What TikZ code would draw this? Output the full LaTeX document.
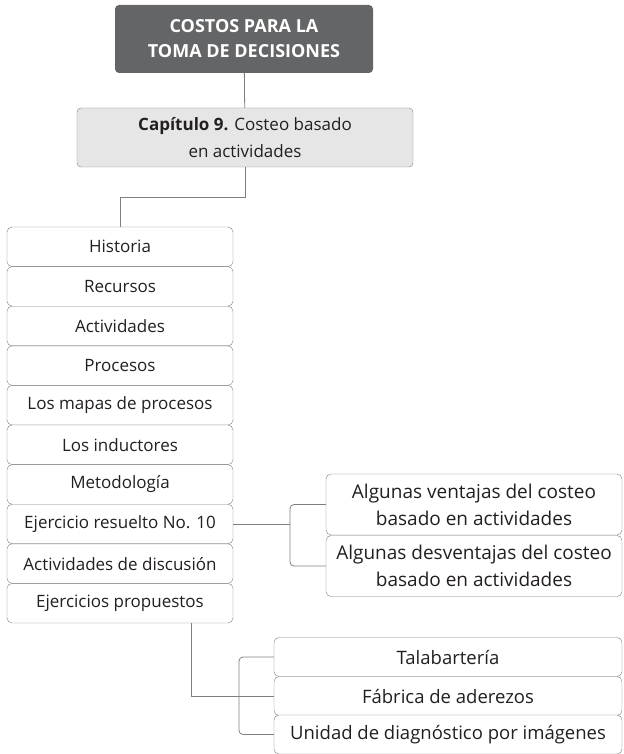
\documentclass[tikz,border=0pt]{standalone}
\usepackage{fontspec}
\setmainfont{Open Sans}
\usepackage{tikz}
\usetikzlibrary{positioning}
\definecolor{colordark}{HTML}{646567}
\definecolor{colorchap}{HTML}{E6E6E6}
\definecolor{colorline}{HTML}{7F7F7F}
\definecolor{colortext}{HTML}{231F20}
\tikzset{
  titlebox/.style={fill=colordark, draw=none, rounded corners=4pt, text=white,
    font=\fontsize{18}{25}\selectfont\bfseries, align=center, inner sep=0pt},
  chapbox/.style={fill=colorchap, draw=colorline, rounded corners=4pt, text=colortext,
    font=\fontsize{17}{27}\selectfont, align=center, inner sep=0pt},
  item/.style={draw=colorline, fill=white, rounded corners=5pt, text=colortext,
    font=\fontsize{17}{22}\selectfont, align=center, inner sep=0pt,
    minimum width=226pt, minimum height=39.6pt},
  subitem/.style={item, font=\fontsize{19}{27}\selectfont,
    minimum width=296pt, minimum height=61pt},
  caseitem/.style={item, font=\fontsize{18.5}{22}\selectfont,
    minimum width=348pt, minimum height=39pt},
  edge/.style={colorline, line width=0.8pt},
  bracket/.style={colorline, line width=0.8pt, rounded corners=4pt}
}
\begin{document}
\begin{tikzpicture}[x=1pt, y=-1pt]
\useasboundingbox (0,0) rectangle (623,754);

\node[titlebox, minimum width=258pt, minimum height=68pt](t) at (244,39)
{COSTOS PARA LA\\TOMA DE DECISIONES};

\node[chapbox, minimum width=336pt, minimum height=59pt](c) at (245,137.5)
{\textbf{Capítulo 9.} Costeo basado\\en actividades};

% temas del capitulo
\node[item](h1) at (120,246.8) {Historia};
\node[item](h2) at (120,286.4) {Recursos};
\node[item](h3) at (120,326) {Actividades};
\node[item](h4) at (120,365.6) {Procesos};
\node[item](h5) at (120,405.2) {Los mapas de procesos};
\node[item](h6) at (120,444.8) {Los inductores};
\node[item](h7) at (120,484.4) {Metodología};
\node[item](h8) at (120,524) {Ejercicio resuelto No. 10};
\node[item](h9) at (120,563.6) {Actividades de discusión};
\node[item](h10) at (120,603.2) {Ejercicios propuestos};

\node[subitem](v1) at (474,504.5)
{Algunas ventajas del costeo\\basado en actividades};
\node[subitem](v2) at (474,566)
{Algunas desventajas del costeo\\basado en actividades};

\node[caseitem](f1) at (448,657) {Talabartería};
\node[caseitem](f2) at (448,696) {Fábrica de aderezos};
\node[caseitem](f3) at (448,734.5) {Unidad de diagnóstico por imágenes};

\coordinate (k1) at (120,197);
\coordinate (k2) at (290,524);
\coordinate (k3) at (191,623);
\coordinate (k4) at (239,696);

\draw[edge] (t) -- (c);
\draw[edge] (c.south) |- (k1) -- (h1.north);
\draw[edge] (h8.east) -- (k2);
\draw[bracket] (v1.west) -| (k2) |- (v2.west);
\draw[edge] (k3) |- (f2.west);
\draw[bracket] (f1.west) -| (k4) |- (f3.west);
\end{tikzpicture}
\end{document}
